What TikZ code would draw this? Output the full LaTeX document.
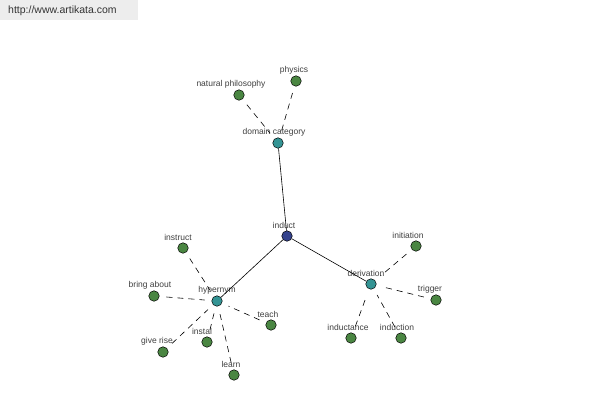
\documentclass[tikz,border=0pt]{standalone}
\usepackage{fontspec}
\setmainfont{Liberation Sans}
\begin{document}
\begin{tikzpicture}[x=1pt,y=-1pt,
  dot/.style={circle,draw=black,line width=0.5pt,minimum size=10.5pt,inner sep=0pt},
  leaf/.style={dot,fill=leafgreen},
  hub/.style={dot,fill=hubteal},
  root/.style={dot,fill=rootblue},
  lbl/.style={font=\fontsize{8.5}{9}\selectfont,text=black!75,inner sep=0pt},
  solidedge/.style={line width=0.6pt,black},
  dashedge/.style={line width=0.6pt,black,dash pattern=on 6pt off 5pt,shorten <=7pt,shorten >=7pt}]
\definecolor{leafgreen}{RGB}{74,134,66}
\definecolor{hubteal}{RGB}{52,148,148}
\definecolor{rootblue}{RGB}{52,66,140}
\useasboundingbox (0,0) rectangle (600,400);
\fill[white] (0,0) rectangle (600,400);
\fill[black!7] (0,0) rectangle (138,20);
\node[font=\fontsize{10.5}{12}\selectfont,text=black!80,anchor=west,inner sep=0pt] (url) at (8,11) {http://www.artikata.com};
% nodes
\node[root] (induct) at (287,236) {};
\node[hub] (dom) at (278,143) {};
\node[leaf] (natphil) at (239,95) {};
\node[leaf] (phys) at (296,81) {};
\node[hub] (hyp) at (217,301) {};
\node[leaf] (instruct) at (183,248) {};
\node[leaf] (bring) at (154,296) {};
\node[leaf] (give) at (163,352) {};
\node[leaf] (instal) at (207,342) {};
\node[leaf] (learn) at (234,375) {};
\node[leaf] (teach) at (271,325) {};
\node[hub] (der) at (371,284) {};
\node[leaf] (init) at (416,246) {};
\node[leaf] (trig) at (436,300) {};
\node[leaf] (inductance) at (351,338) {};
\node[leaf] (induction) at (401,338) {};
% labels
\node[lbl] (l-induct) at (284,225) {induct};
\node[lbl] (l-dom) at (274,132) {domain category};
\node[lbl] (l-natphil) at (231,84) {natural philosophy};
\node[lbl] (l-phys) at (294,70) {physics};
\node[lbl] (l-hyp) at (217,290) {hypernym};
\node[lbl] (l-instruct) at (178,237) {instruct};
\node[lbl] (l-bring) at (150,285) {bring about};
\node[lbl] (l-give) at (157,341) {give rise};
\node[lbl] (l-instal) at (202,331) {instal};
\node[lbl] (l-learn) at (231,364) {learn};
\node[lbl] (l-teach) at (268,314) {teach};
\node[lbl] (l-der) at (366,273) {derivation};
\node[lbl] (l-init) at (408,235) {initiation};
\node[lbl] (l-trig) at (430,289) {trigger};
\node[lbl] (l-inductance) at (348,327) {inductance};
\node[lbl] (l-induction) at (397,327) {induction};
% edges
\draw[solidedge] (induct) -- (dom);
\draw[solidedge] (induct) -- (hyp);
\draw[solidedge] (induct) -- (der);
\draw[dashedge] (natphil) -- (dom);
\draw[dashedge] (phys) -- (dom);
\draw[dashedge] (instruct) -- (hyp);
\draw[dashedge] (bring) -- (hyp);
\draw[dashedge] (give) -- (hyp);
\draw[dashedge] (instal) -- (hyp);
\draw[dashedge] (learn) -- (hyp);
\draw[dashedge] (teach) -- (hyp);
\draw[dashedge] (init) -- (der);
\draw[dashedge] (trig) -- (der);
\draw[dashedge] (inductance) -- (der);
\draw[dashedge] (induction) -- (der);
\end{tikzpicture}
\end{document}
